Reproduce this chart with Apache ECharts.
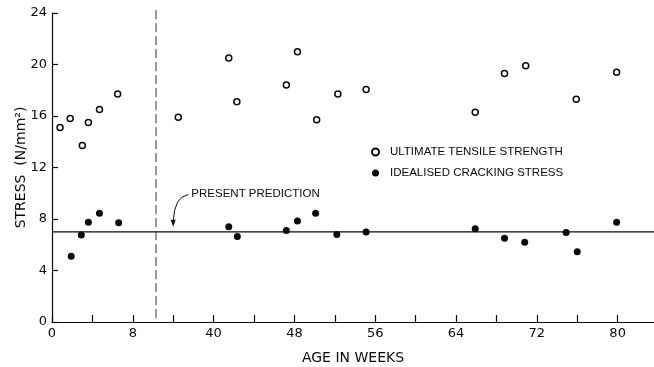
<!DOCTYPE html>
<html>
<head>
<meta charset="utf-8">
<script src="https://cdn.jsdelivr.net/npm/echarts@6/dist/echarts.min.js"></script>
<style>html,body{margin:0;padding:0;background:#fff}#c{width:654px;height:367px}</style>
</head>
<body>
<div id="c"></div>
<script>
// ---- data (real weeks) ----
const utsWeeks  = [0.8, 1.8, 3.0, 3.6, 4.7, 6.5, 36.5, 41.5, 42.3, 47.2, 48.3, 50.2, 52.3, 55.1, 65.9, 68.8, 70.9, 75.9, 79.9];
const utsStress = [15.1, 15.8, 13.7, 15.5, 16.5, 17.7, 15.9, 20.5, 17.1, 18.4, 21.0, 15.7, 17.7, 18.05, 16.3, 19.3, 19.9, 17.3, 19.4];
const icsWeeks  = [1.9, 2.9, 3.6, 4.7, 6.6, 41.5, 42.35, 47.2, 48.3, 50.1, 52.2, 55.1, 65.9, 68.8, 70.8, 74.9, 76.0, 79.9];
const icsStress = [5.1, 6.75, 7.75, 8.45, 7.7, 7.4, 6.65, 7.1, 7.85, 8.45, 6.8, 7.0, 7.25, 6.5, 6.2, 6.95, 5.45, 7.75];
const predictionStress = 7.0;
const breakWeek = 10.3;          // dashed line marking the axis break
const weeksRemoved = 24;         // weeks cut out by the break
const xTickWeeks  = [0, 4, 8, 36, 40, 44, 48, 52, 56, 60, 64, 68, 72, 76, 80];
const xLabelWeeks = [0, 8, 40, 48, 56, 64, 72, 80];
const yTicks = [0, 4, 8, 12, 16, 20, 24];
const seriesNames = ['ULTIMATE TENSILE STRENGTH', 'IDEALISED CRACKING STRESS'];
const annotText = 'PRESENT PREDICTION';
const annotStart = [37.5, 9.9];
const annotTip = [36.0, 7.4];
const xMaxWeek = 83.6;

// ---- break transform ----
const toAxis = w => (w < 20 ? w : w - weeksRemoved);
const toWeek = v => (v <= 10.5 ? v : v + weeksRemoved);

const font = 'Liberation Sans';
const ink = '#0a0a0a';
const chart = echarts.init(document.getElementById('c'), null, {renderer: 'canvas'});
chart.setOption({
  backgroundColor: '#fff',
  animation: false,
  grid: {left: 52, right: 0, top: 13, bottom: 45, containLabel: false, outerBoundsMode: 'none'},
  legend: {
    orient: 'vertical', left: 366, top: 141, itemGap: 9,
    itemWidth: 7, itemHeight: 7,
    textStyle: {fontFamily: font, fontSize: 11.5, color: ink, padding: [0, 0, 0, 6]},
    data: seriesNames
  },
  xAxis: {
    type: 'value', min: 0, max: toAxis(xMaxWeek),
    name: 'AGE IN WEEKS', nameLocation: 'middle', nameGap: 29, nameMoveOverlap: false,
    nameTextStyle: {fontFamily: 'DejaVu Sans', fontSize: 14, color: ink},
    axisLine: {lineStyle: {color: ink, width: 1.2}},
    axisTick: {inside: true, length: 7, lineStyle: {color: ink, width: 1.2},
               customValues: xTickWeeks.map(toAxis)},
    axisLabel: {customValues: xLabelWeeks.map(toAxis), margin: 5,
                formatter: v => String(Math.round(toWeek(v))),
                fontFamily: 'DejaVu Sans', fontSize: 13, color: ink},
    splitLine: {show: false}
  },
  yAxis: {
    type: 'value', min: yTicks[0], max: yTicks[yTicks.length - 1], interval: 4,
    name: 'STRESS  (N/mm²)', nameLocation: 'middle', nameGap: 24, nameMoveOverlap: false,
    nameTextStyle: {fontFamily: 'DejaVu Sans', fontSize: 14, color: ink},
    axisLine: {show: true, lineStyle: {color: ink, width: 1.2}},
    axisTick: {show: true, inside: true, length: 6, lineStyle: {color: ink, width: 1.2}},
    axisLabel: {margin: 5, fontFamily: 'DejaVu Sans', fontSize: 13, color: ink},
    splitLine: {show: false}
  },
  series: [
    {
      name: 'prediction', type: 'line', silent: true, symbol: 'none',
      lineStyle: {color: ink, width: 1.1},
      data: [[0, predictionStress], [toAxis(xMaxWeek), predictionStress]]
    },
    {
      name: 'break', type: 'line', silent: true, symbol: 'none', clip: false,
      lineStyle: {color: '#333', width: 1, type: [9, 4]},
      data: [[toAxis(breakWeek), 0.3], [toAxis(breakWeek), 24.5]]
    },
    {
      name: seriesNames[0], type: 'scatter', symbol: 'circle', symbolSize: 6,
      itemStyle: {color: '#fff', borderColor: ink, borderWidth: 1.5, opacity: 1},
      data: utsWeeks.map((w, i) => [toAxis(w), utsStress[i]])
    },
    {
      name: seriesNames[1], type: 'scatter', symbol: 'circle', symbolSize: 7,
      itemStyle: {color: ink, opacity: 1},
      data: icsWeeks.map((w, i) => [toAxis(w), icsStress[i]])
    },
    {
      name: 'annotation', type: 'custom', silent: true, clip: false,
      data: [[toAxis(annotStart[0]), annotStart[1], toAxis(annotTip[0]), annotTip[1]]],
      renderItem: (params, api) => {
        const s = api.coord([api.value(0), api.value(1)]);
        const t = api.coord([api.value(2), api.value(3)]);
        return {type: 'group', children: [
          {type: 'bezierCurve',
           shape: {x1: s[0], y1: s[1], x2: t[0], y2: t[1] - 5, cpx1: t[0] + 1, cpy1: s[1] + 2},
           style: {stroke: ink, fill: null, lineWidth: 1}},
          {type: 'polygon',
           shape: {points: [[t[0] - 2.5, t[1] - 7], [t[0] + 2.5, t[1] - 7], [t[0], t[1]]]},
           style: {fill: ink}},
          {type: 'text',
           style: {text: annotText, x: s[0] + 3, y: s[1] - 1, verticalAlign: 'middle',
                   font: '11.5px "Liberation Sans"', fill: ink}}
        ]};
      }
    }
  ]
});
</script>
</body>
</html>
